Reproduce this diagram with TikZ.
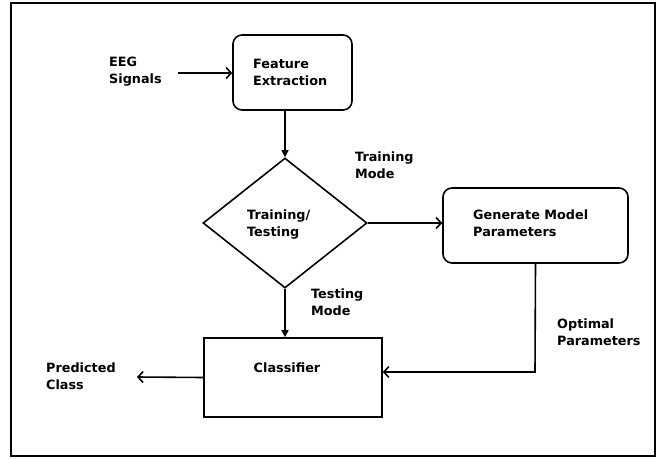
\documentclass[tikz,border=0pt]{standalone}
\usepackage{fontspec}
\setmainfont{DejaVu Sans}
\usetikzlibrary{shapes.geometric,arrows.meta}

\tikzset{
  lbl/.style={font=\bfseries\fontsize{12.8}{16.5}\selectfont, align=left, inner sep=0pt},
  roundbox/.style={draw, line width=1.6pt, rounded corners=9pt},
  flow/.style={line width=1.6pt},
  barb/.style={flow, -{Straight Barb[length=5pt,width=11pt,line width=1.6pt]}},
  tri/.style={flow, -{Triangle[length=7pt,width=7pt]}}
}

\begin{document}
\begin{tikzpicture}[x=1pt,y=-1pt]
    \useasboundingbox (0,0) rectangle (661,458);
    \draw[line width=1.3pt] (11,3) rectangle (655,456);

    % Boxes
    \node[roundbox, minimum width=119pt, minimum height=75pt] (feat) at (292.5,72.5) {};
    \node[lbl, anchor=north west] at (253,59) {Feature\\Extraction};

    \node[draw, diamond, aspect=1.26, line width=1.6pt, minimum width=164pt, minimum height=130pt, inner sep=0pt] (mode) at (285,223) {};
    \node[lbl, anchor=north west] at (247,210) {Training/\\Testing};

    \node[roundbox, minimum width=185pt, minimum height=75pt] (gen) at (535.5,225.5) {};
    \node[lbl, anchor=north west] at (473,210) {Generate Model\\Parameters};

    \node[draw, line width=1.6pt, minimum width=178pt, minimum height=79pt] (clf) at (293,377.5) {};
    \node[lbl] at (287,368) {Classifier};

    % Free labels
    \node[lbl, anchor=north west] (eeg) at (109,57) {EEG\\Signals};
    \node[lbl, anchor=north west] (trmode) at (355,152) {Training\\Mode};
    \node[lbl, anchor=north west] (tsmode) at (311,289) {Testing\\Mode};
    \node[lbl, anchor=north west] (opt) at (557,319) {Optimal\\Parameters};
    \node[lbl, anchor=north west] (pred) at (46,363) {Predicted\\Class};

    \coordinate (eegend) at (178,73);
    \coordinate (predend) at (137,377);
    \coordinate (bend) at (535,372);

    % Connectors
    \draw[barb] (eegend) -- (eegend -| feat.west);
    \draw[tri] (feat.south -| mode.north) -- (mode.north);
    \draw[barb] (mode.east) -- (mode.east -| gen.west);
    \draw[tri] (mode.south) -- (mode.south |- clf.north);
    \draw[barb] (gen.south) -- (bend) -- (bend -| clf.east);
    \draw[barb] (clf.west) -- (predend);
\end{tikzpicture}
\end{document}
